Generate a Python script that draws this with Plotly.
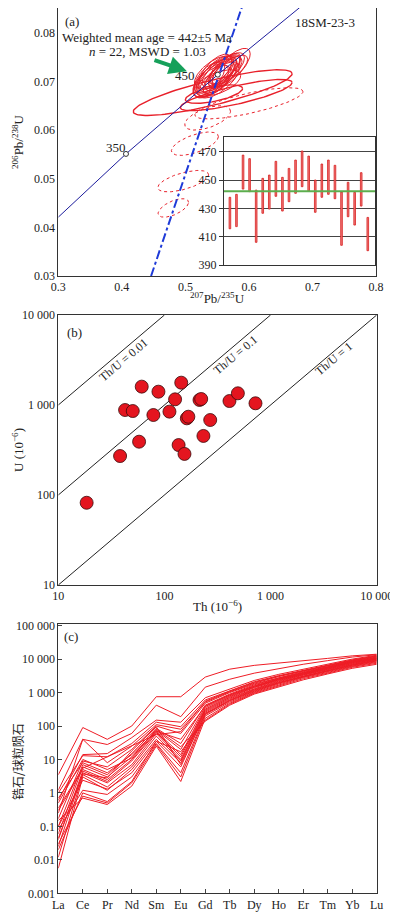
import numpy as np
import plotly.graph_objects as go

# ---- (a) U-Pb concordia data: ellipse centre, 2s half widths, rho ----
ell_x = [0.548, 0.556, 0.545, 0.562, 0.552, 0.540, 0.558, 0.566, 0.549, 0.538, 0.560, 0.551, 0.555, 0.544, 0.553, 0.557, 0.570, 0.542, 0.572, 0.547]
ell_y = [0.0716, 0.0722, 0.0706, 0.0726, 0.0711, 0.0702, 0.0719, 0.0726, 0.0714, 0.0708, 0.0716, 0.0697, 0.0709, 0.0719, 0.0703, 0.0713, 0.0724, 0.0700, 0.0728, 0.0720]
ell_sx = [0.028, 0.030, 0.032, 0.025, 0.034, 0.028, 0.022, 0.027, 0.032, 0.024, 0.029, 0.036, 0.027, 0.030, 0.032, 0.020, 0.028, 0.030, 0.030, 0.026]
ell_sy = [0.0037, 0.0033, 0.0040, 0.0032, 0.0042, 0.0034, 0.0030, 0.0033, 0.0038, 0.0032, 0.0035, 0.0027, 0.0036, 0.0033, 0.0037, 0.0028, 0.0030, 0.0033, 0.0040, 0.0036]
ell_rho = [0.70, 0.75, 0.65, 0.70, 0.72, 0.60, 0.70, 0.68, 0.70, 0.60, 0.74, 0.55, 0.70, 0.66, 0.68, 0.70, 0.72, 0.62, 0.72, 0.64]

# wide solid ellipses
wide_x = [0.543, 0.580, 0.545]
wide_y = [0.0677, 0.0672, 0.0674]
wide_sx = [0.125, 0.088, 0.045]
wide_sy = [0.0047, 0.0032, 0.0019]
wide_rho = [0.83, 0.80, 0.60]

# discordant (dotted) ellipses
dis_x = [0.600, 0.535, 0.515, 0.4965, 0.481]
dis_y = [0.0655, 0.0625, 0.0572, 0.0495, 0.0440]
dis_sx = [0.085, 0.036, 0.037, 0.040, 0.024]
dis_sy = [0.0032, 0.0025, 0.0024, 0.0022, 0.0019]
dis_rho = [0.75, 0.55, 0.60, 0.60, 0.60]

# concordia and lower line
conc_x = [0.30, 0.4065, 0.551, 0.68]
conc_y = [0.0421, 0.0551, 0.0714, 0.0852]
age_x = [0.4065, 0.551]
age_y = [0.0551, 0.0714]
chord_x = [0.446, 0.590]
chord_y = [0.030, 0.0857]

# inset: 206Pb/238U ages (Ma), error bar top/bottom
age_hi = [437.8, 439.9, 467.6, 465.1, 442.9, 451.2, 453.5, 463.2, 451.9, 458.2, 464.1,
          470.5, 466.9, 450.0, 461.3, 464.1, 460.4, 441.5, 448.4, 441.3, 455.2, 423.6]
age_lo = [415.6, 417.1, 443.6, 441.8, 406.0, 426.5, 429.5, 438.5, 428.1, 434.7, 440.6,
          445.3, 442.2, 427.2, 437.8, 439.9, 436.8, 403.9, 424.1, 418.2, 431.6, 400.1]
mean_age = 442

# ---- (b) Th vs U (ppm) ----
th = [18.5, 38.2, 57.7, 42.6, 50.3, 61.1, 78.7, 87.8, 111.5, 126, 144,
      136, 154.5, 162.6, 168, 214, 222, 233, 270, 410, 492, 721]
u = [82, 271, 391, 880, 857, 1600, 774, 1406, 844, 1156, 1770,
     359, 286, 711, 741, 1137, 1166, 453, 681, 1107, 1349, 1045]

# ---- (c) chondrite normalised REE ----
ree = ['La', 'Ce', 'Pr', 'Nd', 'Sm', 'Eu', 'Gd', 'Tb', 'Dy', 'Ho', 'Er', 'Tm', 'Yb', 'Lu']
ree_data = [
    [3.5, 90, 40, 100, 750, 750, 2900, 5000, 6500, 7500, 9000, 10500, 12500, 14000],
    [1.2, 40, 28, 60, 420, 190, 1450, 2500, 3800, 5200, 7000, 9000, 11500, 13500],
    [0.6, 14, 15, 45, 150, 130, 700, 1300, 2300, 3500, 5000, 7000, 10000, 13000],
    [1.0, 13, 12, 30, 130, 95, 600, 1150, 2100, 3200, 4700, 6600, 9500, 12500],
    [0.25, 40, 8, 25, 110, 80, 520, 1050, 1900, 3000, 4400, 6200, 9000, 12000],
    [0.17, 9, 6, 20, 100, 60, 480, 1000, 1800, 2800, 4200, 6000, 8800, 11500],
    [0.1, 7, 3.5, 15, 85, 30, 420, 900, 1700, 2700, 4000, 5800, 8500, 11000],
    [0.06, 6, 3, 12, 75, 20, 380, 850, 1600, 2600, 3900, 5600, 8200, 10800],
    [0.3, 5, 2.5, 10, 70, 14, 350, 800, 1500, 2500, 3700, 5400, 8000, 10500],
    [0.04, 4.5, 2.2, 9, 65, 12, 320, 760, 1450, 2400, 3600, 5200, 7800, 10200],
    [0.025, 4, 2, 7, 60, 10, 300, 720, 1400, 2300, 3500, 5000, 7500, 10000],
    [0.012, 3.5, 1.5, 6, 50, 9, 280, 680, 1300, 2200, 3400, 4900, 7300, 9800],
    [0.0056, 3, 1.2, 5, 40, 8, 260, 640, 1250, 2100, 3300, 4800, 7000, 9500],
    [0.1, 2.4, 1.3, 4, 35, 6, 240, 600, 1200, 2000, 3100, 4600, 6800, 9200],
    [0.08, 1.2, 0.9, 3, 30, 4, 220, 560, 1100, 1900, 3000, 4400, 6500, 8800],
    [0.03, 0.8, 0.5, 2, 28, 3, 200, 520, 1050, 1800, 2900, 4200, 6200, 8400],
    [0.15, 0.7, 0.45, 1.6, 25, 2.2, 170, 480, 1000, 1700, 2800, 4000, 6000, 8000],
    [0.02, 1.0, 0.55, 2.2, 35, 17, 150, 450, 950, 1600, 2600, 3800, 5700, 7500],
    [0.5, 10, 5, 11, 80, 24, 140, 420, 900, 1500, 2400, 3600, 5300, 7000],
    [0.7, 8, 4, 14, 70, 40, 400, 850, 1550, 2500, 3800, 5500, 8300, 10900],
    [0.35, 5.5, 12, 25, 55, 68, 550, 1100, 2000, 3100, 4500, 6300, 9200, 12200],
    [0.045, 3.7, 2.8, 18, 95, 7, 230, 580, 1150, 1950, 3050, 4500, 6600, 9000],
]

RED = '#e8202a'
FONT = 'Liberation Serif'

# the page puts the figure 8 px in from the top-left corner
W, H, OFF = 390, 907, 8


def px(v):
    return (v - OFF) / W


def py(v):
    return min(1.0, 1 - (v - OFF) / H)


def ellipse(cx, cy, sx, sy, rho):
    t = np.linspace(0, 2 * np.pi, 120)
    x = cx + sx * np.cos(t)
    y = cy + sy * (rho * np.cos(t) + np.sqrt(1 - rho ** 2) * np.sin(t))
    return x, y


fig = go.Figure()

# panel a
for cx, cy, sx, sy, r in zip(wide_x, wide_y, wide_sx, wide_sy, wide_rho):
    ex, ey = ellipse(cx, cy, sx, sy, r)
    fig.add_trace(go.Scatter(x=ex, y=ey, mode='lines', line=dict(color=RED, width=1.4),
                             xaxis='x', yaxis='y'))
for cx, cy, sx, sy, r in zip(dis_x, dis_y, dis_sx, dis_sy, dis_rho):
    ex, ey = ellipse(cx, cy, sx, sy, r)
    fig.add_trace(go.Scatter(x=ex, y=ey, mode='lines', line=dict(color=RED, width=1, dash='dot'),
                             xaxis='x', yaxis='y'))
for cx, cy, sx, sy, r in zip(ell_x, ell_y, ell_sx, ell_sy, ell_rho):
    ex, ey = ellipse(cx, cy, sx, sy, r)
    fig.add_trace(go.Scatter(x=ex, y=ey, mode='lines', line=dict(color=RED, width=1),
                             xaxis='x', yaxis='y'))
fig.add_trace(go.Scatter(x=conc_x, y=conc_y, mode='lines', line=dict(color='#1c1c9c', width=1),
                         xaxis='x', yaxis='y'))
fig.add_trace(go.Scatter(x=chord_x, y=chord_y, mode='lines',
                         line=dict(color='#1f3bd8', width=2, dash='dashdot'), xaxis='x', yaxis='y'))
fig.add_trace(go.Scatter(x=age_x, y=age_y, mode='markers',
                         marker=dict(size=5, color='white', line=dict(color='#333', width=1)),
                         xaxis='x', yaxis='y'))

# inset
fig.add_trace(go.Bar(x=list(range(1, len(age_hi) + 1)), base=age_lo,
                     y=[h - l for h, l in zip(age_hi, age_lo)], width=0.25,
                     marker=dict(color='#f07a7a', line=dict(color='#d81e1e', width=0.8)),
                     xaxis='x2', yaxis='y2'))
fig.add_trace(go.Scatter(x=[0, len(age_hi) + 2], y=[mean_age, mean_age], mode='lines',
                         line=dict(color='#5cae4e', width=2), xaxis='x2', yaxis='y2'))

# panel b
fig.add_trace(go.Scatter(x=[10, 10000], y=[10, 10000], mode='lines', line=dict(color='#222', width=1),
                         xaxis='x3', yaxis='y3'))
fig.add_trace(go.Scatter(x=[10, 1000], y=[100, 10000], mode='lines', line=dict(color='#222', width=1),
                         xaxis='x3', yaxis='y3'))
fig.add_trace(go.Scatter(x=[10, 100], y=[1000, 10000], mode='lines', line=dict(color='#222', width=1),
                         xaxis='x3', yaxis='y3'))
fig.add_trace(go.Scatter(x=th, y=u, mode='markers',
                         marker=dict(size=13, color='#e4151f', line=dict(color='#3a0a0a', width=0.8)),
                         xaxis='x3', yaxis='y3'))

# panel c
for row in ree_data:
    fig.add_trace(go.Scatter(x=list(range(len(ree))), y=row, mode='lines',
                             line=dict(color='#ee1c25', width=1), xaxis='x4', yaxis='y4'))

frame = dict(showline=True, linecolor='#333', linewidth=1, mirror=True, showgrid=False,
             zeroline=False, automargin=False, tickfont=dict(family=FONT, size=12, color='#222'))

fig.update_layout(
    template='none',
    width=W, height=H, margin=dict(l=0, r=0, t=0, b=0, pad=0, autoexpand=False),
    paper_bgcolor='white', plot_bgcolor='white', showlegend=False,
    xaxis=dict(frame, domain=[px(58.3), px(376)], range=[0.3, 0.8], anchor='y',
               tickvals=[0.3, 0.4, 0.5, 0.6, 0.7, 0.8], ticks=''),
    yaxis=dict(frame, domain=[py(276), py(7.3)], range=[0.03, 0.0851], anchor='x',
               tickvals=[0.03, 0.04, 0.05, 0.06, 0.07, 0.08], tickformat='.2f', ticks=''),
    xaxis2=dict(frame, domain=[px(224), px(375)], range=[0.1, 23.1], anchor='y2',
                showticklabels=False, ticks=''),
    yaxis2=dict(frame, domain=[py(265), py(136.7)], range=[390, 480.6], anchor='x2',
                tickvals=[390, 410, 430, 450, 470], ticks='outside', ticklen=4, tickcolor='#333',
                showgrid=True, gridcolor='#444', gridwidth=1),
    xaxis3=dict(frame, domain=[px(58.3), px(376.7)], type='log', range=[1, 4], anchor='y3',
                tickvals=[10, 100, 1000, 10000], ticktext=['10', '100', '1 000', '10 000'], ticks=''),
    yaxis3=dict(frame, domain=[py(585), py(315)], type='log', range=[1, 4], anchor='x3',
                tickvals=[10, 100, 1000, 10000], ticktext=['10', '100', '1 000', '10 000'], ticks=''),
    xaxis4=dict(frame, domain=[px(58.3), px(376.7)], range=[0, 13], anchor='y4',
                tickvals=list(range(len(ree))), ticktext=ree, ticks='inside', ticklen=4),
    yaxis4=dict(frame, domain=[py(893.3), py(624.3)], type='log', range=[-3, 5.04], anchor='x4',
                tickvals=[0.001, 0.01, 0.1, 1, 10, 100, 1000, 10000, 100000],
                ticktext=['0.001', '0.01', '0.1', '1', '10', '100', '1 000', '10 000', '100 000'],
                ticks='inside', ticklen=4),
)

tf = dict(family=FONT, size=13, color='#222')
notes = [
    dict(x=px(63), y=py(21), text='(a)', xanchor='left'),
    dict(x=px(147), y=py(37), text='Weighted mean age = 442±5 Ma'),
    dict(x=px(147), y=py(51), text='<i>n</i> = 22, MSWD = 1.03'),
    dict(x=px(325), y=py(23), text='18SM-23-3'),
    dict(x=px(116), y=py(147), text='350'),
    dict(x=px(185), y=py(76), text='450'),
    dict(x=px(18), y=py(142), text='<sup>206</sup>Pb/<sup>238</sup>U', textangle=-90),
    dict(x=px(217), y=py(298), text='<sup>207</sup>Pb/<sup>235</sup>U'),
    dict(x=px(65), y=py(332), text='(b)', xanchor='left'),
    dict(x=px(18), y=py(450), text='U (10<sup>−6</sup>)', textangle=-90),
    dict(x=px(217), y=py(606), text='Th (10<sup>−6</sup>)'),
    dict(x=px(62), y=py(636), text='(c)', xanchor='left'),
]
for n in notes:
    n.setdefault('xanchor', 'center')
    fig.add_annotation(xref='paper', yref='paper', showarrow=False, font=tf, yanchor='middle', **n)

fig.add_annotation(xref='paper', yref='paper', x=px(17), y=py(762), text='锆石/球粒陨石',
                   textangle=-90, showarrow=False, xanchor='center', yanchor='middle',
                   font=dict(family='Noto Sans CJK SC', size=12, color='#222'))

# rotated Th/U labels
for lx, ly, lab in [(1.613, 3.5, 'Th/U = 0.01'), (2.667, 3.556, 'Th/U = 0.1'), (3.594, 3.508, 'Th/U = 1')]:
    fig.add_annotation(xref='x3', yref='y3', x=lx, y=ly, text=lab, textangle=-40, showarrow=False,
                       xanchor='center', yanchor='middle',
                       font=dict(family=FONT, size=12, color='#222'))

# green arrow
fig.add_annotation(xref='x', yref='y', axref='x', ayref='y', x=0.5025, y=0.0721, ax=0.449, ay=0.0745,
                   text='', showarrow=True, arrowhead=2, arrowsize=0.9, arrowwidth=4,
                   arrowcolor='#16a05a')

fig.write_html("out.html")
